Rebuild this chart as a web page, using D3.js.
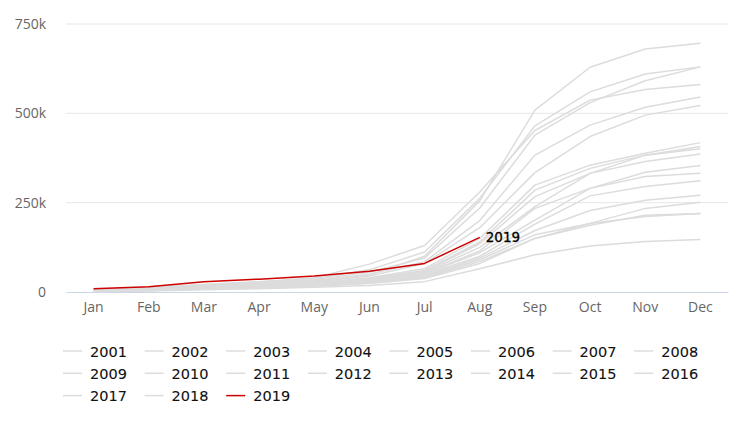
<!DOCTYPE html>
<html><head><meta charset="utf-8">
<script src="https://cdn.jsdelivr.net/npm/d3@7"></script>
<style>
body{margin:0;background:#fff;}
svg{display:block;}
</style></head>
<body>
<svg id="c" width="754" height="433"></svg>
<script>
const months = ["Jan","Feb","Mar","Apr","May","Jun","Jul","Aug","Sep","Oct","Nov","Dec"];
const yTicks = [0, 250000, 500000, 750000];
const years = ["2001","2002","2003","2004","2005","2006","2007","2008","2009","2010","2011","2012","2013","2014","2015","2016","2017","2018","2019"];
// cumulative values in thousands, one array per year
const v2001 = [5, 10, 17, 24, 32, 48, 100, 255, 509, 629, 680, 696];
const v2002 = [6, 12, 20, 28, 38, 62, 112, 262, 465, 560, 610, 630];
const v2003 = [5, 11, 18, 26, 35, 55, 95, 235, 439, 530, 591, 630];
const v2004 = [7, 13, 21, 29, 40, 78, 130, 280, 452, 537, 567, 581];
const v2005 = [4, 9, 15, 22, 30, 50, 85, 200, 383, 467, 517, 546];
const v2006 = [4, 8, 14, 20, 28, 45, 80, 180, 334, 435, 495, 522];
const v2007 = [4, 8, 13, 19, 26, 40, 65, 150, 299, 355, 388, 418];
const v2008 = [3, 7, 12, 18, 25, 38, 60, 140, 285, 346, 383, 407];
const v2009 = [3, 7, 12, 18, 24, 36, 58, 135, 267, 332, 383, 401];
const v2010 = [3, 6, 11, 17, 23, 35, 55, 125, 239, 332, 365, 386];
const v2011 = [3, 6, 11, 16, 22, 33, 52, 115, 234, 290, 335, 354];
const v2012 = [3, 6, 10, 15, 21, 31, 50, 110, 201, 290, 323, 332];
const v2013 = [2, 5, 10, 14, 20, 30, 48, 100, 190, 269, 295, 311];
const v2014 = [2, 5, 9, 13, 19, 28, 45, 95, 172, 228, 257, 271];
const v2015 = [2, 5, 9, 13, 18, 27, 42, 90, 160, 192, 234, 251];
const v2016 = [2, 4, 8, 12, 17, 25, 40, 85, 150, 192, 211, 220];
const v2017 = [2, 4, 8, 12, 16, 24, 38, 80, 150, 187, 215, 220];
const v2018 = [1, 3, 6, 9, 13, 18, 29, 65, 104, 129, 141, 147];
const v2019 = [9, 15, 29, 36, 45, 58, 80, 153];
const seriesValues = [v2001,v2002,v2003,v2004,v2005,v2006,v2007,v2008,v2009,v2010,v2011,v2012,v2013,v2014,v2015,v2016,v2017,v2018,v2019];

const svg = d3.select("#c");
const x = d3.scaleBand().domain(months).range([66, 728]);
const y = d3.scaleLinear().domain([0, 750000]).range([292, 24]);
const xc = m => x(m) + x.bandwidth()/2;
const axisFont = "'Open Sans', sans-serif";

// gridlines
svg.append("g").selectAll("line").data(yTicks.filter(t=>t>0)).join("line")
  .attr("x1", 66).attr("x2", 728)
  .attr("y1", d=>y(d)).attr("y2", d=>y(d))
  .attr("stroke", "#e6e6e6").attr("stroke-width", 1);

// y axis labels
const yAxis = d3.axisLeft(y).tickValues(yTicks).tickSize(0).tickPadding(0)
  .tickFormat(d => d === 0 ? "0" : (d/1000) + "k");
const gy = svg.append("g").attr("transform", "translate(46,0)").call(yAxis);
gy.select(".domain").remove();
gy.selectAll("text").attr("font-family", axisFont).attr("font-size", 14).attr("fill", "#666");

// x axis
const xAxis = d3.axisBottom(x).tickSize(0).tickPadding(10);
const gx = svg.append("g").attr("transform", "translate(0,292)").call(xAxis);
gx.select(".domain").attr("stroke", "#ccd6eb");
gx.selectAll("text").attr("font-family", axisFont).attr("font-size", 14).attr("fill", "#666");

const line = d3.line().x((d,i)=>xc(months[i])).y(d=>y(d*1000));

// grey lines
svg.append("g").selectAll("path").data(seriesValues.slice(0,18)).join("path")
  .attr("d", line).attr("fill", "none")
  .attr("stroke", "#dcdcdc").attr("stroke-width", 1.5).attr("stroke-linejoin","round");

// 2019 line
svg.append("path").datum(v2019).attr("d", line).attr("fill","none")
  .attr("stroke", "#cc0000").attr("stroke-width", 1.5).attr("stroke-linejoin","round");

const last = v2019.length - 1;
svg.append("text")
  .attr("x", xc(months[last]) + 6).attr("y", y(v2019[last]*1000) + 5)
  .attr("font-family", "'DejaVu Sans', sans-serif")
  .attr("font-size", 13.5).attr("fill", "#000")
  .attr("stroke", "#000").attr("stroke-width", 0.3).text("2019");

// legend
const lg = svg.append("g");
const items = lg.selectAll("g").data(years).join("g")
  .attr("transform", (d,i) => `translate(${63 + (i%8)*81.6},${351 + Math.floor(i/8)*22.3})`);
items.append("line").attr("x1", 0).attr("x2", 19).attr("y1", 0).attr("y2", 0)
  .attr("stroke", d => d === "2019" ? "#cc0000" : "#dcdcdc").attr("stroke-width", 1.5);
items.append("text").attr("x", 27).attr("y", 5.5)
  .attr("font-family", "'DejaVu Sans', sans-serif").attr("font-size", 14.5)
  .attr("fill", "#111").attr("stroke", "#111").attr("stroke-width", 0.1).text(d => d);
</script>
</body></html>
